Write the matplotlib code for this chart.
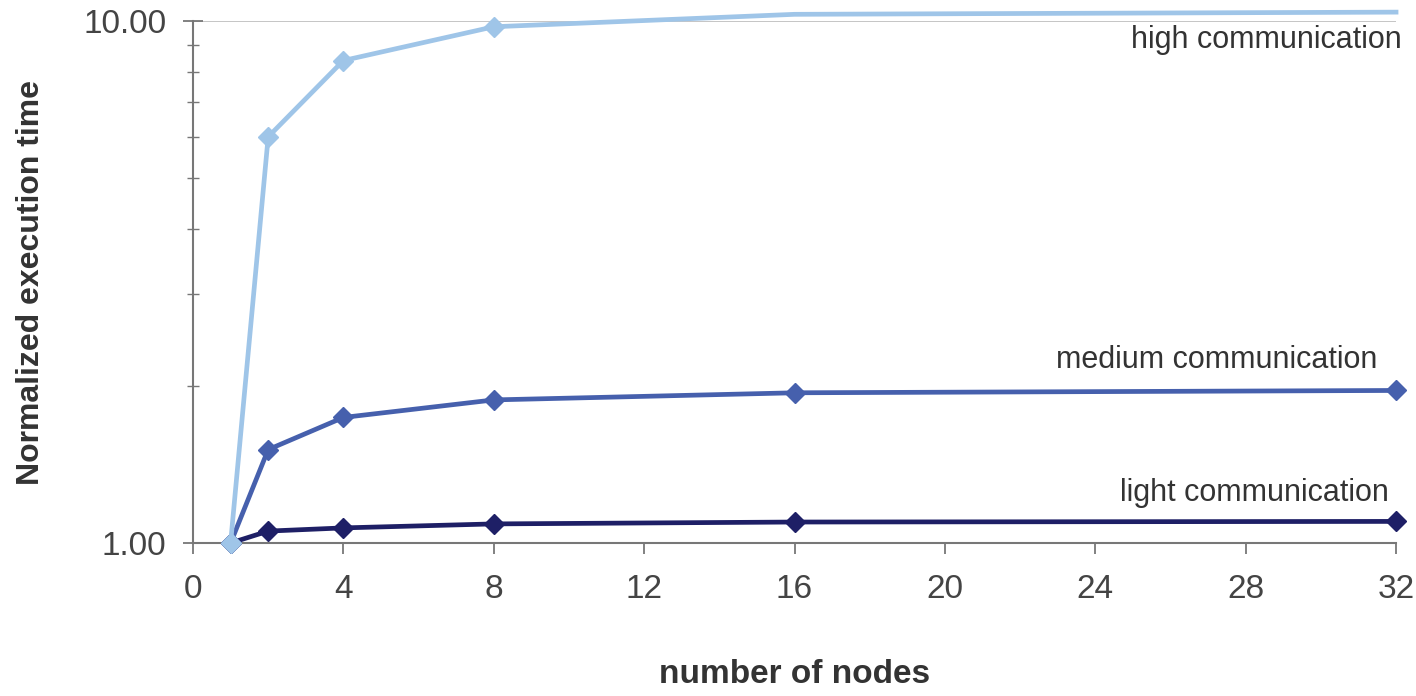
import matplotlib
matplotlib.use("Agg")
import matplotlib.pyplot as plt
from matplotlib.ticker import FixedLocator, NullFormatter, LogLocator

plt.rcParams['font.family'] = ['Liberation Sans', 'DejaVu Sans']

# data
nodes = [1, 2, 4, 8, 16, 32]
high = [1.0, 6.0, 8.4, 9.75, 10.3, 10.4]
medium = [1.0, 1.51, 1.74, 1.88, 1.94, 1.96]
light = [1.0, 1.054, 1.069, 1.088, 1.097, 1.10]

x_ticks = [0, 4, 8, 12, 16, 20, 24, 28, 32]
y_ticks = [1, 10]
y_ticklabels = ["1.00", "10.00"]

fig = plt.figure(figsize=(14.16, 6.96), dpi=100)
ax = fig.add_axes([0.1363, 0.2198, 0.8496, 0.75])

col_high = "#9fc5e8"
col_med = "#4660ad"
col_light = "#1e1f66"

ax.plot(nodes, light, color=col_light, lw=3.4, marker="D", ms=10, clip_on=False, zorder=3)
ax.plot(nodes, medium, color=col_med, lw=3.4, marker="D", ms=10, clip_on=False, zorder=4)
# markers above 10 are cut off in the original
ax.plot(nodes, high, color=col_high, lw=3.4, marker="D", ms=10, markevery=[0, 1, 2, 3],
        clip_on=False, zorder=5)

ax.set_yscale("log")
ax.set_ylim(1, 10)
ax.set_xlim(0, 32)
ax.set_xticks(x_ticks)
ax.yaxis.set_major_locator(FixedLocator(y_ticks))
ax.set_yticklabels(y_ticklabels)
ax.yaxis.set_minor_locator(LogLocator(base=10, subs=range(2, 10)))
ax.yaxis.set_minor_formatter(NullFormatter())

ax.axhline(10, color="#bbbbbb", lw=1.2, zorder=1)

for s in ["top", "right"]:
    ax.spines[s].set_visible(False)
for s in ["left", "bottom"]:
    ax.spines[s].set_color("#777777")
    ax.spines[s].set_linewidth(1.5)

ax.tick_params(axis="y", which="major", direction="inout", length=14, width=1.3,
               colors="#777777", labelcolor="#444444", labelsize=24, pad=12)
ax.tick_params(axis="y", which="minor", direction="inout", length=8, width=1.0, colors="#777777")
ax.tick_params(axis="x", which="major", direction="out", length=8, width=1.3,
               colors="#777777", labelcolor="#444444", labelsize=24, pad=14)

ax.text(32.15, 9.2, "high communication", ha="right", va="center", fontsize=22, color="#333333")
ax.text(31.5, 2.24, "medium communication", ha="right", va="center", fontsize=22, color="#333333")
ax.text(31.8, 1.247, "light communication", ha="right", va="center", fontsize=22, color="#333333")

ax.set_ylabel("Normalized execution time", fontsize=23, fontweight="bold", color="#333333")
ax.yaxis.set_label_coords(-0.122, 0.5)
ax.set_xlabel("number of nodes", fontsize=24, fontweight="bold", color="#333333")
ax.xaxis.set_label_coords(0.5, -0.222)

fig.savefig("out.png", dpi=100)
